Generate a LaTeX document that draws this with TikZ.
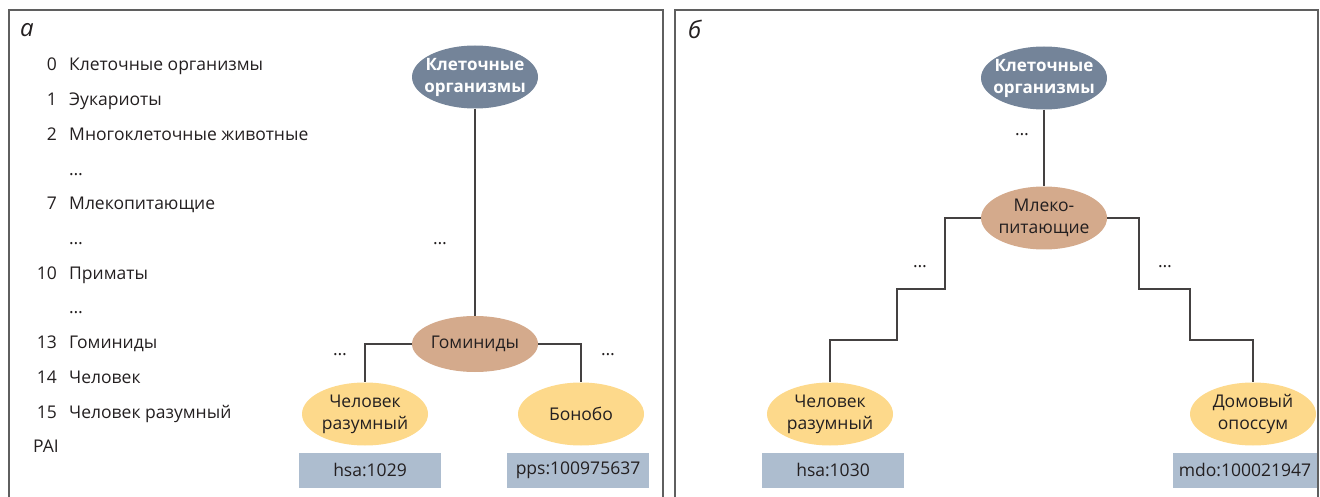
\documentclass[tikz,border=0pt]{standalone}
\usepackage{fontspec}
\setmainfont{Open Sans}
\usetikzlibrary{shapes.geometric}
\definecolor{rootblue}{RGB}{116,132,153}
\definecolor{innertan}{RGB}{212,170,140}
\definecolor{leafyellow}{RGB}{253,217,139}
\definecolor{idblue}{RGB}{173,189,207}
\definecolor{inkgray}{RGB}{35,31,32}
\definecolor{framegray}{RGB}{95,95,95}

\begin{document}
\begin{tikzpicture}[x=1pt, y=-1pt,
    every node/.style={font=\fontsize{17.5}{22}\selectfont, text=inkgray},
    taxon/.style={ellipse, minimum width=126pt, minimum height=63pt, inner xsep=-8pt, inner ysep=-4pt, align=center},
    rootnode/.style={taxon, fill=rootblue, text=white, font=\fontsize{17}{22}\selectfont\bfseries},
    midnode/.style={taxon, fill=innertan},
    leafnode/.style={taxon, fill=leafyellow},
    idbox/.style={rectangle, fill=idblue, minimum width=142pt, minimum height=35pt},
    link/.style={draw=inkgray!85, line width=1.2pt},
    frame/.style={draw=framegray, line width=1.2pt},
    dots/.style={anchor=base},
    entry/.style={inner sep=0pt},
    panel/.style={font=\fontsize{24}{28}\selectfont\itshape, anchor=base west, inner sep=0pt}]
    \useasboundingbox (0,0) rectangle (1320,497);

    % Panel frames
    \draw[frame] (9,497) -- (9,10) -- (663,10) -- (663,497);
    \draw[frame] (675,497) -- (675,10) -- (1318,10) -- (1318,497);

    % Panel letters
    \node[panel] (labela) at (20,37) {а};
    \node[panel] (labelb) at (688,39) {б};

    % Lineage list
    \foreach \i/\num/\name in {0/0/Клеточные организмы, 1/1/Эукариоты, 2/2/Многоклеточные животные,
        4/7/Млекопитающие, 6/10/Приматы, 8/13/Гоминиды, 9/14/Человек, 10/15/Человек разумный} {
        \node[entry, anchor=base east] (num\i) at (57,{71+34.7*\i}) {\num};
        \node[entry, anchor=base west] (item\i) at (69,{71+34.7*\i}) {\name};
    }
    \foreach \i in {3,5,7}
        \node[entry, anchor=base west] (gap\i) at (69,{71+34.7*\i}) {…};
    \node[entry, anchor=base west] (pai) at (33,{71+34.7*11}) {PAI};

    % Tree a
    \node[rootnode] (rootA) at (475,77) {Клеточные\\организмы};
    \node[midnode, minimum height=56pt] (homin) at (475,344) {Гоминиды};
    \node[leafnode] (sapA) at (365,414) {Человек\\разумный};
    \node[leafnode] (bonobo) at (581,414) {Бонобо};
    \node[idbox] (hsaA) at (370,470) {hsa:1029};
    \node[idbox] (pps) at (578,470) {pps:100975637};

    \node[dots] (dotsA1) at (440,244) {…};
    \node[dots] (dotsA2) at (340,355) {…};
    \node[dots] (dotsA3) at (608,355) {…};

    \draw[link] (rootA) -- (homin);
    \draw[link] (homin.west) -| (sapA.north);
    \draw[link] (homin.east) -| (bonobo.north);

    % Tree b
    \node[rootnode] (rootB) at (1044,78) {Клеточные\\организмы};
    \node[midnode] (mamm) at (1044,218) {Млеко-\\питающие};
    \node[leafnode] (sapB) at (830,414) {Человек\\разумный};
    \node[leafnode] (opossum) at (1253,414) {Домовый\\опоссум};
    \node[idbox] (hsaB) at (833,470) {hsa:1030};
    \node[idbox, minimum width=144pt] (mdo) at (1245,470) {mdo:100021947};

    \node[dots] (dotsB1) at (1022,136) {…};
    \node[dots] (dotsB2) at (920,267) {…};
    \node[dots] (dotsB3) at (1165,267) {…};

    \draw[link] (rootB) -- (mamm);
    \draw[link] (mamm.west) -| (945,289) -| (897,340) -| (sapB.north);
    \draw[link] (mamm.east) -| (1139,289) -| (1190,340) -| (opossum.north);
\end{tikzpicture}
\end{document}
